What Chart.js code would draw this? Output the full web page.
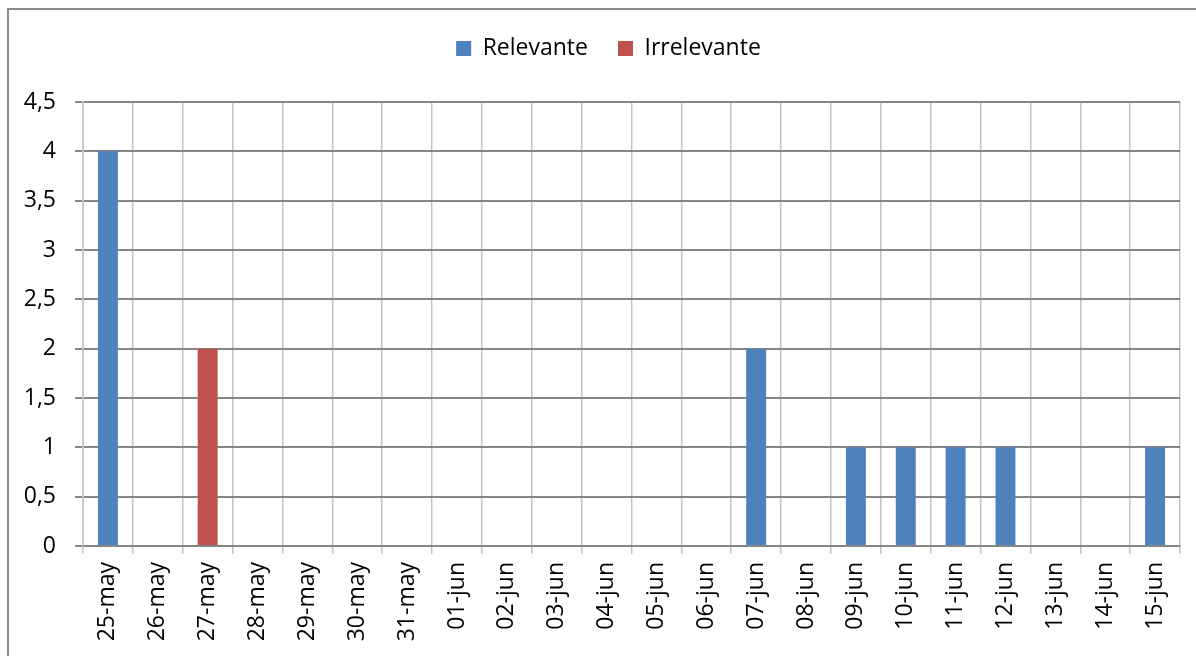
<!DOCTYPE html>
<html>
<head>
<meta charset="utf-8">
<script src="https://cdn.jsdelivr.net/npm/chart.js@4/dist/chart.umd.min.js"></script>
<style>
  html, body { margin: 0; padding: 0; background: #fff; overflow: hidden; }
  #marco { position: absolute; left: 7px; top: 8px; width: 1400px; height: 900px; border: 2px solid #8a8a8a; }
  #grafico { position: absolute; left: 0; top: 0; }
</style>
</head>
<body>
<div id="marco"></div>
<canvas id="grafico" width="1196" height="656"></canvas>
<script>
// datos del gráfico
const fechas = ["25-may", "26-may", "27-may", "28-may", "29-may", "30-may", "31-may",
  "01-jun", "02-jun", "03-jun", "04-jun", "05-jun", "06-jun", "07-jun", "08-jun",
  "09-jun", "10-jun", "11-jun", "12-jun", "13-jun", "14-jun", "15-jun"];
const relevante   = [4, 0, 0, 0, 0, 0, 0, 0, 0, 0, 0, 0, 0, 2, 0, 1, 1, 1, 1, 0, 0, 1];
const irrelevante = [0, 0, 2, 0, 0, 0, 0, 0, 0, 0, 0, 0, 0, 0, 0, 0, 0, 0, 0, 0, 0, 0];

Chart.defaults.font.family = "'Open Sans', sans-serif";
Chart.defaults.font.size = 23;
Chart.defaults.color = "#000";

// leyenda: alto fijo y un poco desplazada a la derecha, como en el original
const ajusteLeyenda = {
  id: "ajusteLeyenda",
  beforeInit(chart) {
    const fit = chart.legend.fit;
    chart.legend.fit = function () { fit.call(this); this.height = 95; };
  },
  afterLayout(chart) {
    chart.legend.left += 37;
  }
};

new Chart(document.getElementById("grafico"), {
  type: "bar",
  data: {
    labels: fechas,
    datasets: [
      { label: "Relevante", data: relevante, backgroundColor: "#4F81BD", borderWidth: 0 },
      { label: "Irrelevante", data: irrelevante, backgroundColor: "#C0504D", borderWidth: 0 }
    ]
  },
  options: {
    responsive: false,
    animation: false,
    layout: { padding: { top: 7, left: 0, right: 16, bottom: 0 } },
    datasets: { bar: { categoryPercentage: 1, barPercentage: 0.4 } },
    plugins: {
      legend: {
        position: "top",
        labels: { boxWidth: 15, boxHeight: 15, padding: 30, font: { size: 23 } }
      },
      tooltip: { enabled: false }
    },
    scales: {
      x: {
        stacked: true,
        offset: true,
        grid: { offset: true, color: "#c4c4c4", lineWidth: 1.5, tickLength: 8, tickColor: "#c4c4c4" },
        border: { color: "#868686", width: 2 },
        ticks: { minRotation: 90, maxRotation: 90, padding: 8, autoSkip: false },
        afterFit(s) { s.height = 110; }
      },
      y: {
        stacked: true,
        min: 0,
        max: 4.5,
        grid: { color: "#868686", lineWidth: 2, tickLength: 8, tickColor: "#868686" },
        border: { color: "#c4c4c4", width: 1.5 },
        ticks: {
          stepSize: 0.5,
          padding: 19,
          callback: v => String(v).replace(".", ",")
        },
        afterFit(s) { s.width = 83; }
      }
    }
  },
  plugins: [ajusteLeyenda]
});
</script>
</body>
</html>
